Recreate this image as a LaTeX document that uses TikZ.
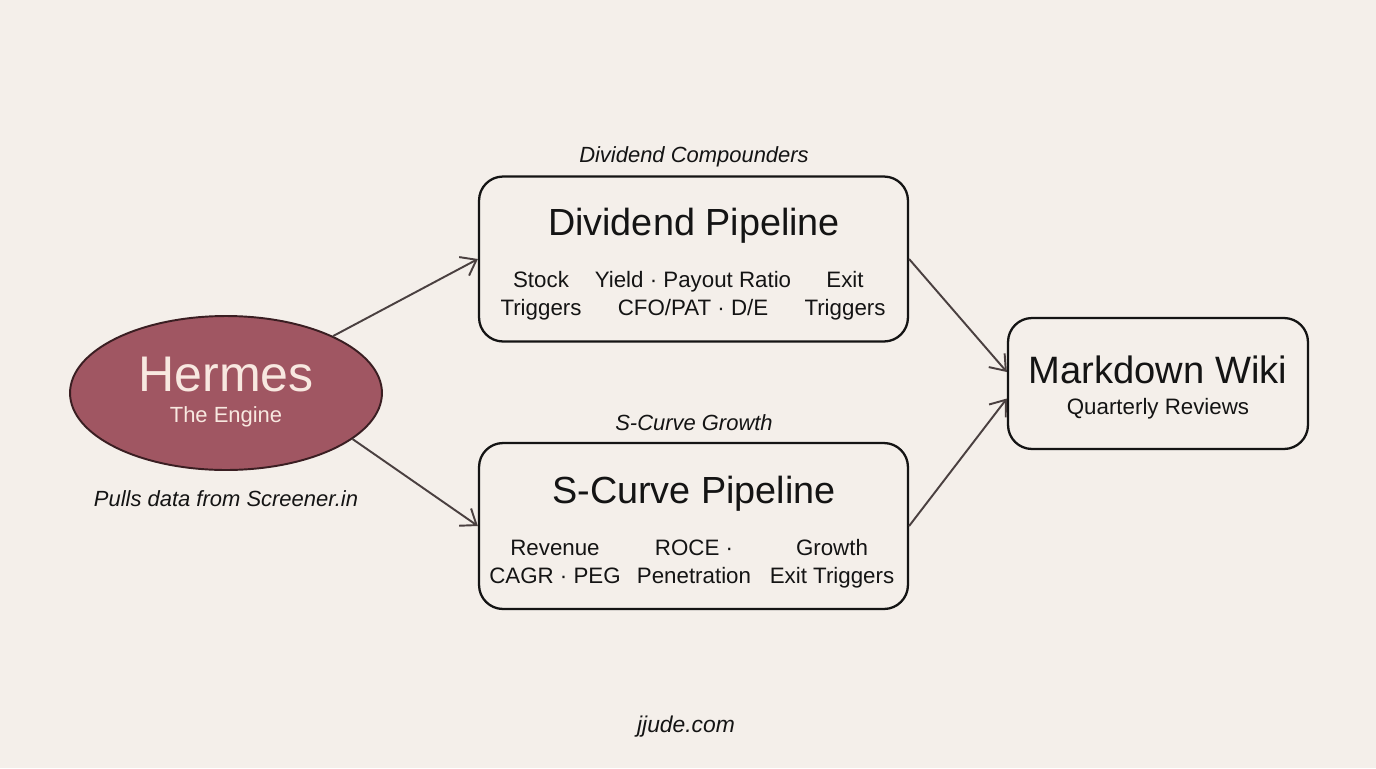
\documentclass[tikz,border=0pt]{standalone}
\usepackage{fontspec}
\setmainfont{Liberation Sans}
\usetikzlibrary{arrows.meta, positioning, shapes.geometric}
\definecolor{paper}{RGB}{244,239,234}
\definecolor{wine}{RGB}{160,86,98}
\definecolor{winedark}{RGB}{58,30,34}
\definecolor{cream}{RGB}{248,232,224}
\definecolor{ink}{RGB}{20,20,20}
\definecolor{arrowgray}{RGB}{74,64,64}

\begin{document}
\begin{tikzpicture}[x=0.02cm, y=-0.02cm,
  pipebox/.style={draw=ink, line width=1.3pt, rounded corners=0.48cm, minimum width=8.58cm, minimum height=3.3cm},
  flow/.style={arrowgray, line width=1.1pt, -{Straight Barb[length=2.8mm, width=4.2mm]}},
  tag/.style={font=\fontsize{12.5}{15}\selectfont\itshape, text=ink, anchor=base},
  metric/.style={font=\fontsize{12.7}{15.9}\selectfont, text=ink, align=center, anchor=base},
  title/.style={font=\fontsize{21.5}{24}\selectfont, text=ink, anchor=base}]
  \fill[paper] (0,0) rectangle (1376,768);
  \useasboundingbox (0,0) rectangle (1376,768);

  % the engine
  \node[ellipse, draw=winedark, line width=1.1pt, fill=wine, minimum width=6.24cm, minimum height=3.08cm] (herm) at (226,393) {};
  \node[anchor=base, text=cream, font=\fontsize{28.5}{30}\selectfont] (hermname) at (226,391) {Hermes};
  \node[anchor=base, text=cream, font=\fontsize{12.5}{15}\selectfont] (hermsub) at (226,422) {The Engine};
  \node[tag] (pulls) at (226,506) {Pulls data from Screener.in};

  % dividend pipeline (metric nodes sit on the baseline of their last line)
  \node[pipebox] (div) at (693.5,259) {};
  \node[tag] (divtag) at (694,162) {Dividend Compounders};
  \node[title] (divname) at (694,235) {Dividend Pipeline};
  \node[metric] (divstock) at (541,315) {Stock\\Triggers};
  \node[metric] (divratio) at (693,315) {Yield · Payout Ratio\\CFO/PAT · D/E};
  \node[metric] (divexit) at (845,315) {Exit\\Triggers};

  % s-curve pipeline
  \node[pipebox, minimum height=3.32cm] (scv) at (693.5,526) {};
  \node[tag] (scvtag) at (694,430) {S-Curve Growth};
  \node[title] (scvname) at (694,503) {S-Curve Pipeline};
  \node[metric] (scvrev) at (555,583) {Revenue\\CAGR · PEG};
  \node[metric] (scvroce) at (694,583) {ROCE ·\\Penetration};
  \node[metric] (scvexit) at (832,583) {Growth\\Exit Triggers};

  % output
  \node[pipebox, minimum width=6cm, minimum height=2.62cm] (wiki) at (1158,383.5) {};
  \node[anchor=base, text=ink, font=\fontsize{21.7}{24}\selectfont] (wikiname) at (1158,383) {Markdown Wiki};
  \node[anchor=base, text=ink, font=\fontsize{12.7}{15}\selectfont] (wikisub) at (1158,414) {Quarterly Reviews};

  \node[tag, font=\fontsize{13}{15}\selectfont\itshape] (site) at (686,732) {jjude.com};

  \draw[flow] (herm.28) -- (div.west);
  \draw[flow] (herm.-20) -- (scv.west);
  \draw[flow] (div.east) -- ([yshift=0.23cm]wiki.west);
  \draw[flow] (scv.east) -- ([yshift=-0.3cm]wiki.west);
\end{tikzpicture}
\end{document}
